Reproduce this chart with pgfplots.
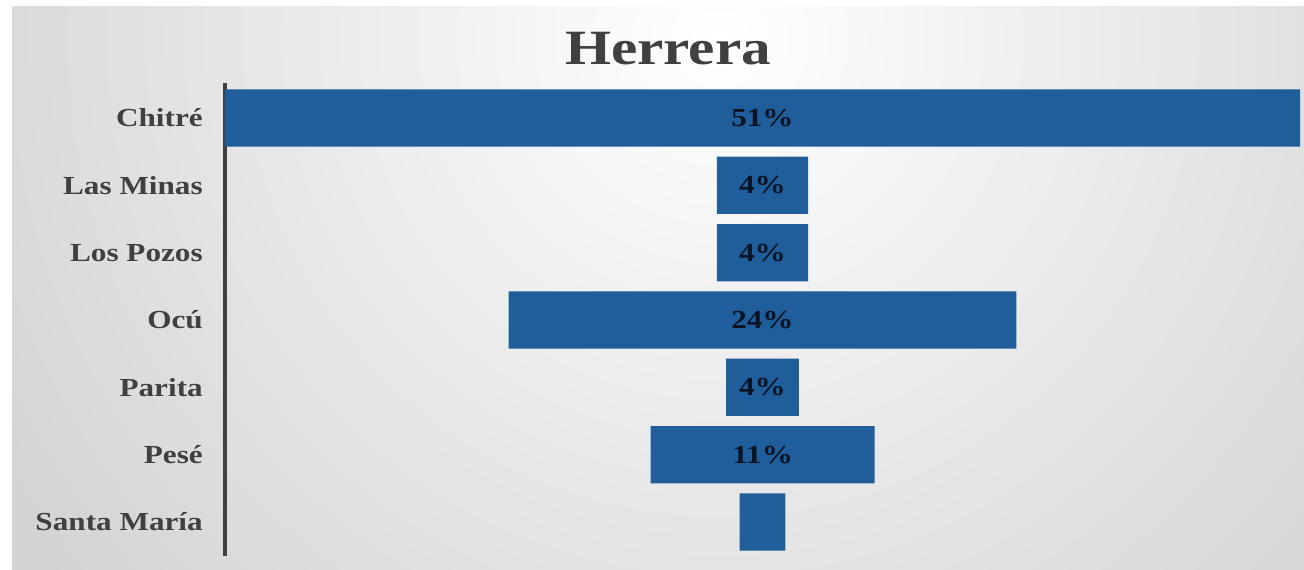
\documentclass[border=0pt]{standalone}
\usepackage{fontspec}
\setmainfont{Liberation Serif}[FakeStretch=1.2]
\usepackage{pgfplots}
\usepackage{pgfplotstable}
\pgfplotsset{compat=1.18}
\definecolor{barblue}{RGB}{32,94,155}
\definecolor{labelgray}{RGB}{64,64,64}
\definecolor{edgegray}{RGB}{178,178,178}
\definecolor{numcol}{RGB}{10,20,35}

% funnel: invisible offset + visible share (in %)
\pgfplotstableread{
idx off   val   lab
0   0     51    51\%
1   23.34 4.32  4\%
2   23.34 4.32  4\%
3   13.45 24.1  24\%
4   23.77 3.46  4\%
5   20.19 10.63 11\%
6   24.41 2.18  {}
}\funneldata

\begin{document}
\begin{tikzpicture}[x=0.75pt,y=0.75pt]
\useasboundingbox (0,0) rectangle (1304,569);
\fill[white] (0,0) rectangle (1304,569);
\begin{scope}
  \clip (12,0) rectangle (1304,562);
  \shade[inner color=white, outer color=edgegray] (720,530) circle (1500);
\end{scope}
\node[anchor=base, font=\fontsize{37}{40}\selectfont\bfseries, text=labelgray]
  at (668,504) {Herrera};

\begin{axis}[
    at={(168.75pt,9.75pt)}, anchor=south west,
    scale only axis,
    width=806.25pt, height=354.75pt,
    xbar stacked,
    bar width=0.85,
    xmin=0, xmax=51,
    ymin=-0.52, ymax=6.505,
    y dir=reverse,
    enlargelimits=false,
    axis x line=none,
    axis y line*=left,
    axis line style={draw=labelgray, line width=2.6pt},
    ytick={0,...,6},
    yticklabels={Chitré, Las Minas, Los Pozos, Ocú, Parita, Pesé, Santa María},
    major tick length=0pt,
    yticklabel style={font=\fontsize{19.5}{22}\selectfont\bfseries, text=labelgray,
        anchor=east, inner sep=0pt, xshift=-16.5pt},
    clip=false,
]
\addplot[draw=none, fill=none] table[x=off, y=idx] {\funneldata};
\addplot[draw=none, fill=barblue,
    nodes near coords, point meta=explicit symbolic,
    every node near coord/.style={anchor=center,
        font=\fontsize{19.5}{22}\selectfont\bfseries, text=numcol}]
  table[x=val, y=idx, meta=lab] {\funneldata};
\end{axis}
\end{tikzpicture}
\end{document}
